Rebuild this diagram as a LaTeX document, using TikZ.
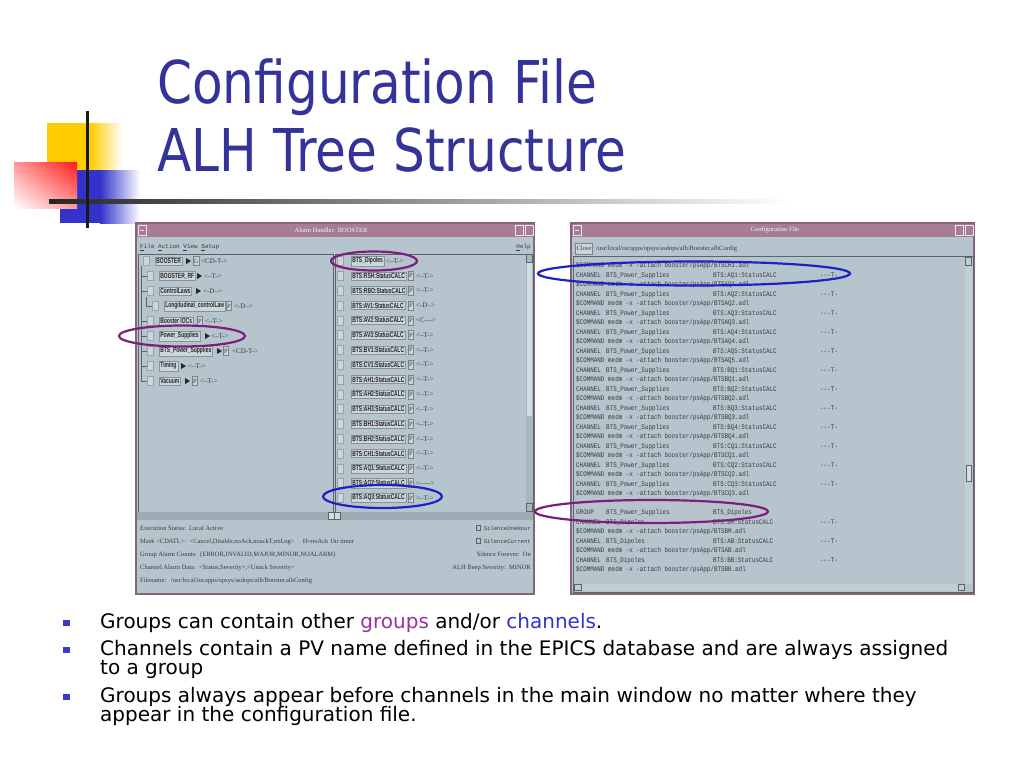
\documentclass[tikz,border=0pt]{standalone}
\usepackage{fontspec}
\setmainfont{Liberation Serif}
\setmonofont{Liberation Mono}
\newfontfamily\tah{DejaVu Sans}[FakeStretch=0.85]
\newfontfamily\verd{DejaVu Sans}
\newfontfamily\nb{Liberation Sans}[FakeStretch=0.66]
\newfontfamily\cfgmono{Liberation Mono}[FakeStretch=0.84,Ligatures=NoCommon]
\usetikzlibrary{shapes.geometric,shadings}
\definecolor{titleblue}{HTML}{333399}
\definecolor{bulletblue}{HTML}{3B3BC0}
\definecolor{grppurple}{HTML}{993399}
\definecolor{chblue}{HTML}{3333CC}
\definecolor{scr}{HTML}{B6C5CD}
\definecolor{tbar}{HTML}{A87B97}
\definecolor{frm}{HTML}{86657A}
\definecolor{btn}{HTML}{CAD6DC}
\definecolor{dk}{HTML}{5A6469}
\definecolor{trough}{HTML}{9DABB2}
\definecolor{ellpur}{HTML}{7D1E7D}
\definecolor{ellblue}{HTML}{1E22C4}
\definecolor{txt}{HTML}{3A3A3A}
\definecolor{logoyellow}{HTML}{FFCC00}
\definecolor{logoblue}{HTML}{3333CC}
\definecolor{logored}{HTML}{FF1A1A}
\tikzset{
 lbl/.style={fill=btn, draw=dk!70, line width=0.35pt, inner xsep=1.2pt, inner ysep=1.3pt, anchor=west, font=\nb\bfseries\fontsize{7.5}{8}\selectfont, text=black!85},
 flg/.style={anchor=west, inner sep=0pt, font=\fontsize{7}{8}\selectfont, text=txt},
 pbox/.style={draw=dk!80, fill=btn, inner sep=0.6pt, font=\fontsize{6.5}{7}\selectfont, text=txt, minimum width=5pt, minimum height=9pt},
 chk/.style={draw=dk!60, fill=scr!70!white, minimum width=6pt, minimum height=9pt, inner sep=0pt},
 cfg/.style={anchor=base west, inner sep=0pt, font=\cfgmono\fontsize{7}{8}\selectfont, text=txt},
 stat/.style={anchor=base west, inner sep=0pt, font=\fontsize{6.5}{7}\selectfont, text=txt},
 statr/.style={stat, anchor=base east},
 ell/.style={line width=2.2pt},
 bul/.style={anchor=base west, inner sep=0pt, font=\verd\fontsize{20}{24}\selectfont, text=black},
 ttl/.style={anchor=base west, inner sep=0pt, font=\tah\fontsize{59}{70}\selectfont, text=titleblue},
 wtitle/.style={inner sep=0pt, font=\fontsize{6.5}{7}\selectfont, text=white!92!tbar},
}
\newcommand\tri[2]{\fill[black!85] (#1,{#2-3}) -- ({#1+5},#2) -- (#1,{#2+3}) -- cycle;}
\newcommand\chan[3]{%
 \node[cfg] (c#1a) at (576,{267.5+9.5*#1}) {CHANNEL};
 \node[cfg] (c#1b) at (606,{267.5+9.5*#1}) {#2};
 \node[cfg] (c#1c) at (713,{267.5+9.5*#1}) {#3};
 \node[cfg] (c#1d) at (820,{267.5+9.5*#1}) {-{}-{}-T-};}
\newcommand\cmdline[2]{%
 \node[cfg] (c#1a) at (576,{267.5+9.5*#1}) {\$COMMAND};
 \node[cfg] (c#1b) at (608,{267.5+9.5*#1}) {medm -x -attach booster/psApp/#2.adl};}
\begin{document}
\begin{tikzpicture}[x=1pt,y=-1pt]
\useasboundingbox (0,0) rectangle (1024,768);
\fill[white] (0,0) rectangle (1024,768);
% ---------- logo ----------
\fill[logoyellow] (47,123) rectangle (90,172);
\shade[left color=logoyellow, right color=white] (90,123) rectangle (122,172);
\fill[logoblue] (60,170) rectangle (100,223);
\shade[left color=logoblue, right color=white] (100,170) rectangle (140,223);
\shade[upper right=logored, upper left=logored!45, lower right=logored!45, lower left=white] (14,162) rectangle (77,208);
\shade[left color=black!85, right color=white] (49,199.5) rectangle (790,203.5);
\fill[black!90] (85.5,111) rectangle (89,228);
% ---------- title ----------
\node[ttl] (t1) at (157,103) {Configuration File};
\node[ttl] (t2) at (157,171) {ALH Tree Structure};
% ---------- left window ----------
\fill[frm] (135,222) rectangle (535,595);
\fill[scr] (137,237) rectangle (533,593);
\fill[tbar] (137,223.5) rectangle (533,237);
\draw[white!80!tbar, line width=0.6pt] (138,225) rectangle (146,235);
\draw[white!80!tbar, line width=0.8pt] (140,230) -- (144,230);
\draw[white!80!tbar, line width=0.6pt] (515,225) rectangle (523,235);
\draw[white!80!tbar, line width=0.6pt] (525,225) rectangle (533,235);
\node[wtitle] (lwt) at (331,230) {Alarm Handler: BOOSTER};
\node[anchor=base west, inner sep=0pt, font=\ttfamily\fontsize{6}{7}\selectfont, text=txt] (menu) at (140,248.5) {\underline{F}ile \underline{A}ction \underline{V}iew \underline{S}etup};
\node[anchor=base east, inner sep=0pt, font=\ttfamily\fontsize{6}{7}\selectfont, text=txt] (help) at (531,248.5) {\underline{H}elp};
\draw[dk, line width=0.8pt] (138,254) rectangle (333,512);
\draw[dk, line width=0.8pt] (335,254) rectangle (533,512);
\fill[scr!85!dk] (526,254) rectangle (533,512);
\fill[scr!60!white] (527,262) rectangle (532,416);
\draw[dk, line width=0.4pt] (526.5,254.5) rectangle (532.5,262);
\draw[dk, line width=0.4pt] (526.5,503) rectangle (532.5,511.5);
\fill[trough] (137,512) rectangle (533,520);
\fill[scr!60!white] (328,512.5) rectangle (340,519.5);
\draw[dk, line width=0.4pt] (328,512.5) rectangle (340,519.5) (334,512.5) -- (334,519.5);
% tree lines
\draw[dk, line width=0.5pt] (141,266) -- (141,381);
\foreach \y in {276,291,321,336,351,366,381} \draw[dk, line width=0.5pt] (141,\y) -- (147,\y);
\draw[dk, line width=0.5pt] (146,297) -- (146,306) -- (152,306);
% tree items
\node[chk] (k0) at (146,261) {};
\node[lbl] (g0) at (155,261) {BOOSTER};
\tri{186}{261}
\node[pbox] (p0) at (196,261) {G};
\node[flg] (f0) at (201,261) {<CD-T->};
\node[chk] (k1) at (150,276) {};
\node[lbl] (g1) at (159,276) {BOOSTER\_RF};
\tri{197}{276}
\node[flg] (f1) at (204,276) {<--T->};
\node[chk] (k2) at (150,291) {};
\node[lbl] (g2) at (159,291) {ControlLaws};
\tri{196}{291}
\node[flg] (f2) at (203,291) {<-D-->};
\node[chk] (k3) at (155,306) {};
\node[lbl] (g3) at (164,306) {Longitudinal\_controlLaw};
\node[pbox] (p3) at (229,306) {P};
\node[flg] (f3) at (234,306) {<-D-->};
\node[chk] (k4) at (150,321) {};
\node[lbl] (g4) at (159,321) {Booster IOCs};
\node[pbox] (p4) at (200,321) {P};
\node[flg] (f4) at (205,321) {<--T->};
\node[chk] (k5) at (150,336) {};
\node[lbl] (g5) at (159,336) {Power\_Supplies};
\tri{205}{336}
\node[flg] (f5) at (211,336) {<--T->};
\node[chk] (k6) at (150,351) {};
\node[lbl] (g6) at (159,351) {BTS\_Power\_Supplies};
\tri{217}{351}
\node[pbox] (p6) at (226,351) {P};
\node[flg] (f6) at (232,351) {<CD-T->};
\node[chk] (k7) at (150,366) {};
\node[lbl] (g7) at (159,366) {Timing};
\tri{181}{366}
\node[flg] (f7) at (188,366) {<--T->};
\node[chk] (k8) at (150,381) {};
\node[lbl] (g8) at (159,381) {Vacuum};
\tri{185}{381}
\node[pbox] (p8) at (195,381) {P};
\node[flg] (f8) at (200,381) {<--T->};
% list items
\node[chk] (rk0) at (340,261) {};
\node[lbl] (rl0) at (351,261) {BTS\_Dipoles};
\node[flg] (rf0) at (386,261) {<--T->};
\foreach \n/\f [count=\k] in {RSH/{<--T->},RBO/{<--T->},AV1/{<-D-->},AV2/{<C--->},AV3/{<--T->},BV1/{<--T->},CV1/{<--T->},AH1/{<--T->},AH2/{<--T->},AH3/{<--T->},BH1/{<--T->},BH2/{<--T->},CH1/{<--T->},AQ1/{<--T->},AQ2/{<----->},AQ3/{<--T->}} {
 \pgfmathsetmacro\yy{261+14.81*\k}
 \node[chk] (rk\k) at (340,\yy) {};
 \node[lbl] (rl\k) at (351,\yy) {BTS:\n:StatusCALC};
 \node[pbox] (rp\k) at (411,\yy) {P};
 \node[flg] (rf\k) at (416,\yy) {\f};
}
% status area
\node[stat] (s1) at (140,530.5) {Execution Status:\ \ Local Active};
\node[stat] (s2) at (140,543.5) {Mask <CDATL>:\ \ <Cancel,Disable,noAck,noackT,noLog>\quad\ H=noAck 1hr timer};
\node[stat] (s3) at (140,556.5) {Group Alarm Counts:\ \ (ERROR,INVALID,MAJOR,MINOR,NOALARM)};
\node[stat] (s4) at (140,569.5) {Channel Alarm Data:\ \ <Status,Severity>,<Unack Severity>};
\node[stat] (s5) at (140,582.5) {Filename:\ \ \ /usr/local/iocapps/opsys/asdops/alh/Booster.alhConfig};
\node[statr, font=\ttfamily\fontsize{5.6}{6}\selectfont] (s6) at (531,530.5) {SilenceOneHour};
\node[statr, font=\ttfamily\fontsize{5.6}{6}\selectfont] (s7) at (531,543.5) {SilenceCurrent};
\draw[dk, line width=0.4pt] (s6.west) ++(-7,-3) rectangle ++(4,5);
\draw[dk, line width=0.4pt] (s7.west) ++(-7,-3) rectangle ++(4,5);
\node[statr] (s8) at (531,556.5) {Silence Forever:\ \ On};
\node[statr] (s9) at (531,569.5) {ALH Beep Severity:\ \ MINOR};
% ---------- right window ----------
\fill[frm] (570,222) rectangle (975,595);
\fill[scr] (572,237) rectangle (973,593);
\fill[tbar] (572,223.5) rectangle (973,237);
\draw[white!80!tbar, line width=0.6pt] (573,225) rectangle (581,235);
\draw[white!80!tbar, line width=0.8pt] (575,230) -- (579,230);
\draw[white!80!tbar, line width=0.6pt] (955,225) rectangle (963,235);
\draw[white!80!tbar, line width=0.6pt] (965,225) rectangle (973,235);
\node[wtitle] (rwt) at (775,230) {Configuration File};
\node[draw=dk!80, fill=btn, inner sep=1.2pt, font=\fontsize{6.5}{7}\selectfont, text=txt, minimum height=11pt] (close) at (584,248.5) {Close};
\node[stat, anchor=west] (path) at (596,248.5) {/usr/local/iocapps/opsys/asdops/alh/Booster.alhConfig};
\draw[dk, line width=0.8pt] (573,256) rectangle (973,592);
\fill[scr!85!white] (965,257) rectangle (972,584);
\draw[dk, line width=0.4pt] (965.5,257.5) rectangle (971.5,265);
\fill[scr!55!white] (966,465) rectangle (971,481);
\draw[dk, line width=0.4pt] (966,465) rectangle (971,481);
\fill[scr!85!white] (574,584) rectangle (965,591);
\draw[dk, line width=0.4pt] (574.5,584.5) rectangle (581,590.5) (958,584.5) rectangle (964.5,590.5);
% config lines
\cmdline{0}{BTSCH1}
\foreach \p [count=\i from 0] in {AQ1,AQ2,AQ3,AQ4,AQ5,BQ1,BQ2,BQ3,BQ4,CQ1,CQ2,CQ3} {
 \pgfmathtruncatemacro\ka{2*\i+1}
 \pgfmathtruncatemacro\kb{2*\i+2}
 \chan{\ka}{BTS\_Power\_Supplies}{BTS:\p:StatusCALC}
 \cmdline{\kb}{BTS\p}
}
\node[cfg] (c26a) at (576,{267.5+9.5*26}) {GROUP};
\node[cfg] (c26b) at (606,{267.5+9.5*26}) {BTS\_Power\_Supplies};
\node[cfg] (c26c) at (713,{267.5+9.5*26}) {BTS\_Dipoles};
\chan{27}{BTS\_Dipoles}{BTS:BM:StatusCALC}
\cmdline{28}{BTSBM}
\chan{29}{BTS\_Dipoles}{BTS:AB:StatusCALC}
\cmdline{30}{BTSAB}
\chan{31}{BTS\_Dipoles}{BTS:BB:StatusCALC}
\cmdline{32}{BTSBB}
% ---------- ellipses ----------
\draw[ell, ellpur] (182,336) ellipse [x radius=63, y radius=10.5];
\draw[ell, ellpur] (374,261) ellipse [x radius=43, y radius=9.5];
\draw[ell, ellblue] (382.5,496.5) ellipse [x radius=59.5, y radius=11.5];
\draw[ell, ellblue] (694,273.5) ellipse [x radius=156, y radius=12];
\draw[ell, ellpur] (651.5,511.5) ellipse [x radius=116.5, y radius=11.5];
% ---------- bullets ----------
\fill[bulletblue] (63,620) rectangle (70,626);
\fill[bulletblue] (63,647) rectangle (70,653);
\fill[bulletblue] (63,694) rectangle (70,700);
\node[bul] (b1) at (100,628) {Groups can contain other \textcolor{grppurple}{groups} and/or \textcolor{chblue}{channels}.};
\node[bul] (b2) at (100,655) {Channels contain a PV name defined in the EPICS database and are always assigned};
\node[bul] (b2b) at (100,674) {to a group};
\node[bul] (b3) at (100,702) {Groups always appear before channels in the main window no matter where they};
\node[bul] (b3b) at (100,721) {appear in the configuration file.};
\end{tikzpicture}
\end{document}
